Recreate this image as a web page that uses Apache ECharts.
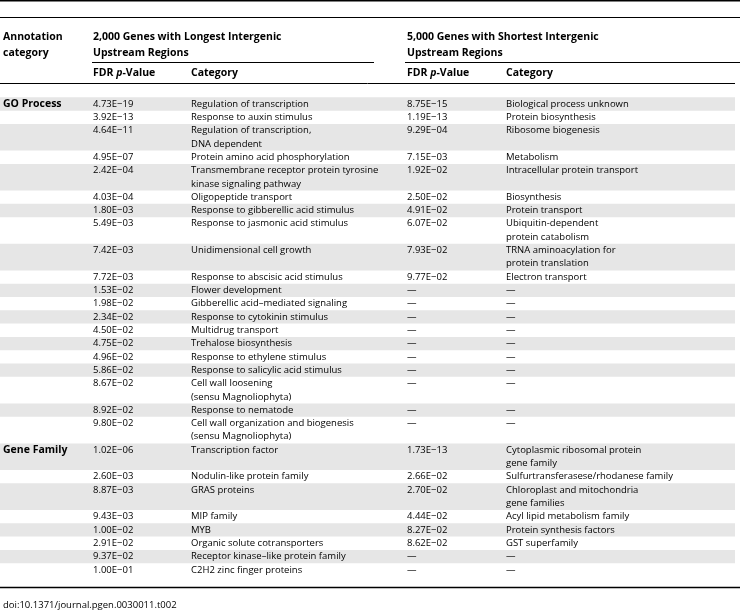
<!DOCTYPE html>
<html><head><meta charset="utf-8">
<script src="https://cdn.jsdelivr.net/npm/echarts@6/dist/echarts.min.js"></script>
<style>html,body{margin:0;padding:0;background:#fff}#c{width:740px;height:615px}</style>
</head><body><div id="c"></div>
<script>
// ---- data ----
const groupNames = ["GO Process", "Gene Family"];
const goLongP = ["4.73E\u221219","3.92E\u221213","4.64E\u221211","4.95E\u221207","2.42E\u221204","4.03E\u221204","1.80E\u221203","5.49E\u221203","7.42E\u221203","7.72E\u221203","1.53E\u221202","1.98E\u221202","2.34E\u221202","4.50E\u221202","4.75E\u221202","4.96E\u221202","5.86E\u221202","8.67E\u221202","8.92E\u221202","9.80E\u221202"];
const goLongCat = ["Regulation of transcription","Response to auxin stimulus","Regulation of transcription,\nDNA dependent","Protein amino acid phosphorylation","Transmembrane receptor protein tyrosine\nkinase signaling pathway","Oligopeptide transport","Response to gibberellic acid stimulus","Response to jasmonic acid stimulus","Unidimensional cell growth","Response to abscisic acid stimulus","Flower development","Gibberellic acid\u2013mediated signaling","Response to cytokinin stimulus","Multidrug transport","Trehalose biosynthesis","Response to ethylene stimulus","Response to salicylic acid stimulus","Cell wall loosening\n(sensu Magnoliophyta)","Response to nematode","Cell wall organization and biogenesis\n(sensu Magnoliophyta)"];
const goShortP = ["8.75E\u221215","1.19E\u221213","9.29E\u221204","7.15E\u221203","1.92E\u221202","2.50E\u221202","4.91E\u221202","6.07E\u221202","7.93E\u221202","9.77E\u221202","\u2014","\u2014","\u2014","\u2014","\u2014","\u2014","\u2014","\u2014","\u2014","\u2014"];
const goShortCat = ["Biological process unknown","Protein biosynthesis","Ribosome biogenesis","Metabolism","Intracellular protein transport","Biosynthesis","Protein transport","Ubiquitin-dependent\nprotein catabolism","TRNA aminoacylation for\nprotein translation","Electron transport","\u2014","\u2014","\u2014","\u2014","\u2014","\u2014","\u2014","\u2014","\u2014","\u2014"];
const geneLongP = ["1.02E\u221206","2.60E\u221203","8.87E\u221203","9.43E\u221203","1.00E\u221202","2.91E\u221202","9.37E\u221202","1.00E\u221201"];
const geneLongCat = ["Transcription factor","Nodulin-like protein family","GRAS proteins","MIP family","MYB","Organic solute cotransporters","Receptor kinase\u2013like protein family","C2H2 zinc finger proteins"];
const geneShortP = ["1.73E\u221213","2.66E\u221202","2.70E\u221202","4.44E\u221202","8.27E\u221202","8.62E\u221202","\u2014","\u2014"];
const geneShortCat = ["Cytoplasmic ribosomal protein\ngene family","Sulfurtransferasese/rhodanese family","Chloroplast and mitochondria\ngene families","Acyl lipid metabolism family","Protein synthesis factors","GST superfamily","\u2014","\u2014"];
const headGroup1 = "2,000 Genes with Longest Intergenic\nUpstream Regions";
const headGroup2 = "5,000 Genes with Shortest Intergenic\nUpstream Regions";
const headAnno = "Annotation\ncategory";
const footnote = "doi:10.1371/journal.pgen.0030011.t002";

// ---- build rows ----
const groups = [
  [goLongP, goLongCat, goShortP, goShortCat],
  [geneLongP, geneLongCat, geneShortP, geneShortCat]
];
const rows = [];
let line = 0;
groups.forEach((g, gi) => {
  g[0].forEach((_, i) => {
    const cells = [i === 0 ? groupNames[gi] : "", g[0][i], g[1][i], g[2][i], g[3][i]];
    const n = Math.max(...cells.map(c => c.split("\n").length));
    rows.push({ value: [line, n, rows.length], cells: cells });
    line += n;
  });
});
const totalLines = line;

// ---- layout ----
const FONT = '"Open Sans", sans-serif';
const colX = [3, 93, 191, 407, 506];
const shadeRight = 735;
const LH = 13.31;
const gridTop = 97.35;

const chart = echarts.init(document.getElementById('c'), null, { renderer: 'canvas' });
const line_ = (x1, y1, x2, y2, w) => ({ type: 'line', shape: { x1, y1, x2, y2 }, style: { stroke: '#000', lineWidth: w }, silent: true });
const txt = (x, y, text, opt) => ({ type: 'text', x, y, style: Object.assign({ text, fill: '#000', font: 'bold 10.5px ' + FONT, verticalAlign: 'middle', align: 'left', lineHeight: 16 }, opt || {}), silent: true });

const pvRich = { b: { fontWeight: 'bold', fontSize: 10.5, fontFamily: FONT, fill: '#000' }, i: { fontWeight: 'bold', fontStyle: 'italic', fontSize: 10.5, fontFamily: FONT, fill: '#000' } };

chart.setOption({
  animation: false,
  grid: { left: 0, right: 0, top: gridTop, height: totalLines * LH },
  xAxis: { type: 'value', min: 0, max: 740, show: false },
  yAxis: { type: 'value', min: 0, max: totalLines, inverse: true, show: false },
  graphic: [
    line_(0, 0.75, 740, 0.75, 1.5),
    line_(0, 17.5, 740, 17.5, 1),
    txt(colX[0], 45, headAnno),
    txt(colX[1], 45, headGroup1),
    txt(colX[3], 45, headGroup2),
    line_(92, 62.5, 374, 62.5, 1),
    line_(405, 62.5, 740, 62.5, 1),
    { type: 'text', x: colX[1], y: 73, silent: true, style: { text: '{b|FDR }{i|p}{b|-Value}', rich: pvRich, verticalAlign: 'middle' } },
    txt(colX[2], 73, 'Category'),
    { type: 'text', x: colX[3], y: 73, silent: true, style: { text: '{b|FDR }{i|p}{b|-Value}', rich: pvRich, verticalAlign: 'middle' } },
    txt(colX[4], 73, 'Category'),
    line_(0, 83.5, shadeRight, 83.5, 1),
    line_(0, 587.5, 740, 587.5, 1.5),
    txt(3, 605, footnote, { font: '9.5px ' + FONT })
  ],
  series: [{
    type: 'custom',
    coordinateSystem: 'cartesian2d',
    clip: false,
    data: rows.map(r => r.value),
    renderItem: function (params, api) {
      const start = api.value(0), n = api.value(1), idx = api.value(2);
      const r = rows[idx];
      const p0 = api.coord([0, start]);
      const p1 = api.coord([shadeRight, start + n]);
      const children = [];
      if (idx % 2 === 0) {
        children.push({ type: 'rect', shape: { x: p0[0], y: p0[1], width: p1[0] - p0[0], height: p1[1] - p0[1] }, style: { fill: '#e6e6e6' } });
      }
      r.cells.forEach((c, ci) => {
        if (!c) return;
        c.split('\n').forEach((t, li) => {
          const p = api.coord([colX[ci], start + li + 0.5]);
          children.push({ type: 'text', x: p[0], y: p[1], style: { text: t, fill: '#000', font: (ci === 0 ? 'bold 10.5px ' : '9.5px ') + FONT, verticalAlign: 'middle', align: 'left' } });
        });
      });
      return { type: 'group', children: children };
    }
  }]
});
</script></body></html>
